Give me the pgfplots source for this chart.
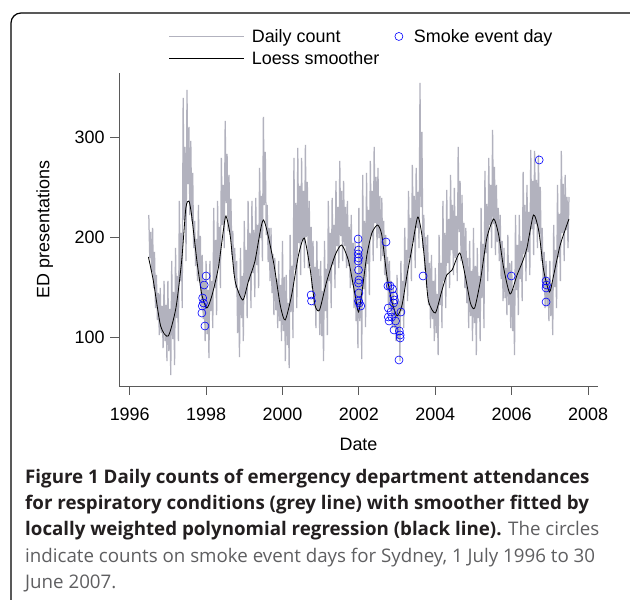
\documentclass[border=0pt]{standalone}
\usepackage{fontspec}
\setmainfont{Liberation Sans}
\newfontfamily\capfont{Open Sans}
\usepackage{pgfplots}
\pgfplotsset{compat=1.18}
\usepackage{pgfplotstable}
\definecolor{dailygrey}{RGB}{178,178,190}
\definecolor{axisgrey}{RGB}{90,90,90}
\definecolor{capbold}{RGB}{35,31,32}
\definecolor{capreg}{RGB}{95,95,97}
\pgfplotsset{linelegend/.style={legend image code/.code={\draw[##1] (0bp,0bp) -- (75bp,0bp);}},
  circlegend/.style={legend image code/.code={\path[draw=none, fill=none] (0bp,0bp) -- (12bp,0bp); \draw[##1, /tikz/only marks] plot coordinates {(4bp,0bp)};}}}

% daily counts, one value every 0.025 year from 1996.5
\pgfplotstableread[row sep=\\]{v\\
222\\179\\205\\165\\ 209\\149\\185\\129\\ 162\\117\\144\\102\\ 149\\104\\131\\89\\ 156\\96\\132\\76\\
156\\86\\128\\62\\ 176\\98\\145\\72\\ 189\\119\\161\\96\\ 236\\156\\204\\129\\ 339\\217\\290\\176\\
347\\253\\310\\222\\ 296\\216\\264\\189\\ 216\\171\\198\\156\\ 232\\155\\201\\129\\ 182\\118\\156\\96\\
176\\103\\147\\79\\ 176\\126\\156\\109\\ 229\\149\\197\\122\\ 236\\171\\210\\149\\ 279\\212\\252\\189\\
316\\234\\283\\206\\ 262\\202\\238\\182\\ 206\\163\\189\\149\\ 176\\104\\147\\80\\ 189\\119\\161\\96\\
216\\143\\187\\119\\ 236\\156\\204\\129\\ 236\\164\\207\\140\\ 239\\172\\212\\149\\ 269\\199\\241\\176\\
320\\232\\285\\202\\ 232\\175\\209\\156\\ 209\\144\\183\\122\\ 179\\127\\158\\109\\ 176\\116\\152\\96\\
196\\106\\160\\76\\ 162\\92\\134\\69\\ 202\\125\\171\\99\\ 279\\167\\234\\129\\ 289\\194\\251\\162\\
279\\197\\246\\169\\ 292\\200\\255\\169\\ 236\\171\\210\\149\\ 196\\131\\170\\109\\ 196\\126\\168\\102\\
176\\101\\146\\76\\ 196\\126\\168\\102\\ 236\\156\\204\\129\\ 239\\172\\212\\149\\ 256\\191\\230\\169\\
276\\201\\246\\176\\ 256\\191\\230\\169\\ 236\\171\\210\\149\\ 222\\152\\194\\129\\ 196\\116\\164\\89\\
229\\116\\184\\78\\ 262\\148\\216\\110\\ 264\\173\\227\\142\\ 276\\201\\246\\176\\ 290\\214\\260\\189\\
269\\199\\241\\176\\ 239\\181\\216\\162\\ 202\\147\\180\\129\\ 176\\126\\156\\109\\ 149\\109\\133\\96\\
162\\98\\136\\76\\ 176\\126\\156\\109\\ 209\\154\\187\\136\\ 246\\179\\219\\156\\ 272\\195\\241\\169\\
269\\209\\245\\189\\ 354\\230\\305\\189\\ 222\\167\\200\\149\\ 202\\132\\174\\109\\ 182\\118\\156\\96\\
169\\104\\143\\82\\ 202\\132\\174\\109\\ 236\\156\\204\\129\\ 247\\174\\218\\149\\ 262\\187\\232\\162\\
249\\179\\221\\156\\ 290\\205\\256\\176\\ 242\\172\\214\\149\\ 209\\134\\179\\109\\ 196\\121\\166\\96\\
209\\114\\171\\82\\ 189\\119\\161\\96\\ 229\\139\\193\\109\\ 266\\184\\233\\156\\ 279\\212\\252\\189\\
307\\213\\270\\182\\ 252\\195\\229\\176\\ 222\\158\\196\\136\\ 189\\139\\169\\122\\ 202\\132\\174\\109\\
176\\106\\148\\82\\ 222\\147\\192\\122\\ 222\\158\\196\\136\\ 265\\183\\232\\156\\ 252\\185\\225\\162\\
287\\208\\256\\182\\ 286\\213\\257\\189\\ 282\\203\\250\\176\\ 209\\149\\185\\129\\ 176\\131\\158\\116\\
176\\121\\154\\102\\ 212\\150\\187\\129\\ 252\\180\\223\\156\\ 286\\204\\253\\176\\ 262\\207\\240\\189\\
240\\
}\dailytab

\begin{document}
\begin{tikzpicture}
\useasboundingbox (0,0) rectangle (630bp,600bp);
\fill[white] (0,0) rectangle (630bp,600bp);
\draw[black, line width=1.2bp, rounded corners=10bp] (11bp,-20bp) -- (11bp,587bp) -- (660bp,587bp);
\begin{axis}[
  at={(119bp,214bp)}, anchor=south west,
  scale only axis, width=479bp, height=313bp,
  xmin=1995.72, xmax=2008.26, ymin=51, ymax=364,
  axis x line*=bottom, axis y line*=left,
  axis line style={axisgrey, line width=0.8bp, -},
  tick align=outside, major tick length=9bp,
  tick style={axisgrey, line width=0.8bp},
  xtick={1996,1998,2000,2002,2004,2006,2008},
  xticklabels={1996,1998,2000,2002,2004,2006,2008},
  ytick={100,200,300}, yticklabels={100,200,300},
  ticklabel style={font=\fontsize{18}{21}\selectfont, text=black},
  xticklabel style={yshift=-9bp},
  yticklabel style={xshift=-2bp},
  label style={font=\fontsize{18}{21}\selectfont},
  xlabel={Date}, ylabel={ED presentations},
  xlabel style={at={(axis description cs:0.5,-0.2045)}, anchor=base},
  ylabel style={at={(axis description cs:-0.1455,0.5)}, anchor=base},
  legend columns=2, legend cell align=left,
  legend style={draw=none, fill=none, inner sep=0pt, outer sep=0pt,
    at={(axis description cs:0.1044,1.1415)}, anchor=north west,
    font=\fontsize{18}{21}\selectfont, row sep=6bp,
    nodes={inner sep=0pt, text height=14bp, text depth=1.5bp},
    /tikz/every odd column/.append style={column sep=7bp},
    /tikz/every even column/.append style={column sep=15.5bp}},
]
\addlegendimage{dailygrey, line width=0.8bp, linelegend}
\addlegendentry{Daily count}
\addlegendimage{only marks, mark=o, blue, mark size=4bp, mark options={line width=0.6bp}, circlegend}
\addlegendentry{Smoke event day}
\addlegendimage{black, line width=0.8bp, linelegend}
\addlegendentry{Loess smoother}

\addplot[dailygrey, line width=1.25bp, forget plot] table[x expr={1996.5+0.025*\coordindex}, y=v] {\dailytab};

\addplot[black, line width=0.8bp, smooth, tension=0.4, forget plot] coordinates {
(1996.49,180) (1996.62,156) (1996.81,111) (1997.01,101) (1997.21,129) (1997.36,176)
(1997.47,229) (1997.55,236) (1997.62,222) (1997.76,176) (1997.89,142) (1998.02,129)
(1998.15,141) (1998.32,169) (1998.45,206) (1998.52,221) (1998.63,202) (1998.76,156)
(1998.96,137) (1999.11,156) (1999.28,176) (1999.50,217) (1999.76,176) (1999.94,132)
(2000.07,117) (2000.24,142) (2000.42,182) (2000.57,199) (2000.72,169) (2000.85,132)
(2000.97,127) (2001.16,156) (2001.38,182) (2001.55,192) (2001.73,176) (2001.90,142)
(2001.99,125) (2002.08,145) (2002.21,182) (2002.34,204) (2002.49,212) (2002.60,202)
(2002.73,162) (2002.86,136) (2003.00,121) (2003.13,132) (2003.26,162) (2003.39,189)
(2003.54,220) (2003.65,202) (2003.74,169) (2003.82,136) (2004.00,124) (2004.17,146)
(2004.30,162) (2004.44,167) (2004.64,184) (2004.78,162) (2004.92,134) (2005.03,129)
(2005.18,156) (2005.35,199) (2005.53,218) (2005.66,202) (2005.79,169) (2005.96,143)
(2006.14,162) (2006.27,174) (2006.40,189) (2006.57,222) (2006.71,206) (2006.84,166)
(2006.99,145) (2007.10,162) (2007.27,192) (2007.50,218)
};

\addplot[only marks, mark=o, blue, mark size=4bp, mark options={line width=0.6bp}, forget plot] coordinates {
(1998.00,161) (1997.95,152) (1997.91,139) (1997.93,134) (1997.90,131) (1997.89,124) (1997.97,111)
(2000.75,142) (2000.76,136)
(2001.98,198) (2001.99,187) (2001.98,183) (2001.99,179) (2001.98,176) (2001.99,167)
(2002.00,157) (2001.99,154) (2002.00,144) (2001.99,136) (2002.01,134) (2002.05,131)
(2002.71,195) (2002.76,151) (2002.82,151) (2002.88,148) (2002.91,141) (2002.93,137)
(2002.91,134) (2002.77,129) (2002.84,125) (2003.10,125) (2002.77,120) (2002.86,120)
(2002.79,116) (2002.96,116) (2002.92,107) (2003.06,106) (2003.08,102) (2003.08,99) (2003.05,77)
(2003.68,161) (2005.99,161) (2006.72,277)
(2006.90,156) (2006.91,152) (2006.90,149) (2006.90,135)
};
\end{axis}
\begin{scope}[every node/.style={anchor=base west, inner sep=0pt, text=capbold, font=\capfont\fontsize{18.8}{22}\selectfont}]
\node at (25bp,116bp) {\bfseries Figure 1 Daily counts of emergency department attendances};
\node at (25bp,90bp) {\bfseries for respiratory conditions (grey line) with smoother fitted by};
\node at (25bp,64bp) {{\bfseries locally weighted polynomial regression (black line).} {\color{capreg}The circles}};
\node[text=capreg] at (25bp,38bp) {indicate counts on smoke event days for Sydney, 1 July 1996 to 30};
\node[text=capreg] at (25bp,12bp) {June 2007.};
\end{scope}
\end{tikzpicture}
\end{document}
